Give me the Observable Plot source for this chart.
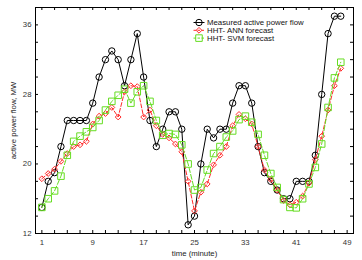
<!DOCTYPE html>
<html><head><meta charset="utf-8">
<script src="https://cdn.jsdelivr.net/npm/d3@7"></script>
<script src="https://cdn.jsdelivr.net/npm/@observablehq/plot@0.6"></script>
<style>body{margin:0;background:#fff} #chart{width:362px;height:260px}</style>
</head><body><div id="chart"></div>
<script>
const minutes = d3.range(1, 49);
const measured = [15,18,19,22,25,25,25,25,27,30,32,33,32,29,32,35,30,25,22,24,26,26,24,13,14,20,24,23,24,24,27,29,29,27,22,19,18,17,16,16,18,18,18,21,28,35,37,37];
const ann = [18.3,18.9,19.4,20.3,21.2,22.0,22.2,22.6,24.6,25.5,25.8,26.5,25.4,28.3,29.0,28.9,25.4,26.2,24.4,23.4,23.0,22.3,21.4,18.0,14.6,16.75,17.7,19.9,21.0,22.0,24.4,25.7,25.2,24.6,22.0,19.3,18.2,17.0,15.8,15.3,15.6,16.3,17.8,20.5,23.2,26.2,29.0,31.0];
const svm = [15.0,16.0,16.9,18.6,21.0,22.6,23.2,23.7,24.2,25.0,26.2,27.2,27.9,28.6,27.0,28.3,29.0,27.2,25.0,23.3,23.5,23.4,22.2,20.0,17.0,17.3,19.3,21.2,22.0,23.1,23.8,25.1,25.5,24.8,23.4,21.0,18.9,17.3,15.9,15.0,14.95,16.0,17.7,19.6,22.3,26.5,29.9,31.7];
const seriesNames = ["Measured active power flow", "HHT- ANN forecast", "HHT- SVM forecast"];
const xTickLabels = [1, 9, 17, 25, 33, 41, 49];
const yTickLabels = [12, 20, 28, 36];
const xMinorTicks = d3.range(1, 50, 2);
const yMinorTicks = d3.range(12, 39, 2);
const xLabel = "time (minute)";
const yLabel = "active power flow, MW";

const mk = (vals) => minutes.map((t, i) => ({t, v: vals[i]}));
const mRows = mk(measured), aRows = mk(ann), sRows = mk(svm);

const BLACK = "#000", RED = "#ff2a2a", GREEN = "#66dd22";
const FONT = "Liberation Sans, Arial, sans-serif";
const W = 362, H = 260, mt = 7, mb = 27, ml = 35, mr = 9;
const ih = H - mt - mb, iw = W - ml - mr;

const styles = [
  {stroke: BLACK, dash: null, symbol: "circle", r: 3.2},
  {stroke: RED, dash: "2.5,1.5", symbol: "diamond2", r: 2.6},
  {stroke: GREEN, dash: "2.5,1.5", symbol: "square", r: 3.7}
];

// legend sample line as a custom symbol
const legendLine = {draw(ctx) { ctx.moveTo(-5.5, 0); ctx.lineTo(5.5, 0); }};

const legendMarks = seriesNames.flatMap((name, i) => {
  const st = styles[i];
  const dy = 15 + i * 7.8;
  return [
    Plot.dot([0], {frameAnchor: "top-left", dx: 163.5, dy, symbol: legendLine, r: 3, stroke: st.stroke, fill: "none", strokeWidth: 1, strokeDasharray: st.dash}),
    Plot.dot([0], {frameAnchor: "top-left", dx: 163.5, dy, symbol: st.symbol, r: st.r, stroke: st.stroke, fill: "none", strokeWidth: 1}),
    Plot.text([name], {frameAnchor: "top-left", dx: 171.5, dy, text: d => d, fill: "#111", fontSize: 7.8, textAnchor: "start", lineAnchor: "middle"})
  ];
});

const chart = Plot.plot({
  width: W, height: H,
  marginTop: mt, marginBottom: mb, marginLeft: ml, marginRight: mr,
  style: {fontFamily: FONT, background: "#fff", overflow: "visible"},
  x: {domain: [0, 50]},
  y: {domain: [12, 38]},
  marks: [
    Plot.tickX(xMinorTicks, {x: d => d, insetTop: ih - 3, stroke: "#000"}),
    Plot.tickX(xMinorTicks, {x: d => d, insetBottom: ih - 3, stroke: "#000"}),
    Plot.tickY(yMinorTicks, {y: d => d, insetRight: iw - 3, stroke: "#000"}),
    Plot.tickY(yMinorTicks, {y: d => d, insetLeft: iw - 3, stroke: "#000"}),
    Plot.axisX(xTickLabels, {anchor: "bottom", tickSize: 0, tickPadding: 6, label: null, fontSize: 7.8, fill: "#333"}),
    Plot.axisY(yTickLabels, {anchor: "left", tickSize: 0, tickPadding: 4, label: null, fontSize: 7.8, fill: "#333"}),
    Plot.frame({stroke: "#000"}),
    Plot.line(mRows, {x: "t", y: "v", stroke: BLACK, strokeWidth: 1}),
    Plot.dot(mRows, {x: "t", y: "v", symbol: "circle", r: 3.2, stroke: BLACK, fill: "none", strokeWidth: 1}),
    Plot.line(aRows, {x: "t", y: "v", stroke: RED, strokeWidth: 1, strokeDasharray: "4,2"}),
    Plot.dot(aRows, {x: "t", y: "v", symbol: "diamond2", r: 2.6, stroke: RED, fill: "none", strokeWidth: 1}),
    Plot.line(sRows, {x: "t", y: "v", stroke: GREEN, strokeWidth: 1, strokeDasharray: "5,2"}),
    Plot.dot(sRows, {x: "t", y: "v", symbol: "square", r: 3.7, stroke: GREEN, fill: "none", strokeWidth: 1}),
    ...legendMarks,
    Plot.text([yLabel], {frameAnchor: "left", dx: -22, rotate: -90, text: d => d, fontSize: 7.8, fill: "#222", textAnchor: "middle", lineAnchor: "middle"}),
    Plot.text([xLabel], {frameAnchor: "bottom", dy: 20, text: d => d, fontSize: 7.8, fill: "#222", textAnchor: "middle", lineAnchor: "middle"})
  ]
});
document.getElementById("chart").appendChild(chart);
</script>
</body></html>
